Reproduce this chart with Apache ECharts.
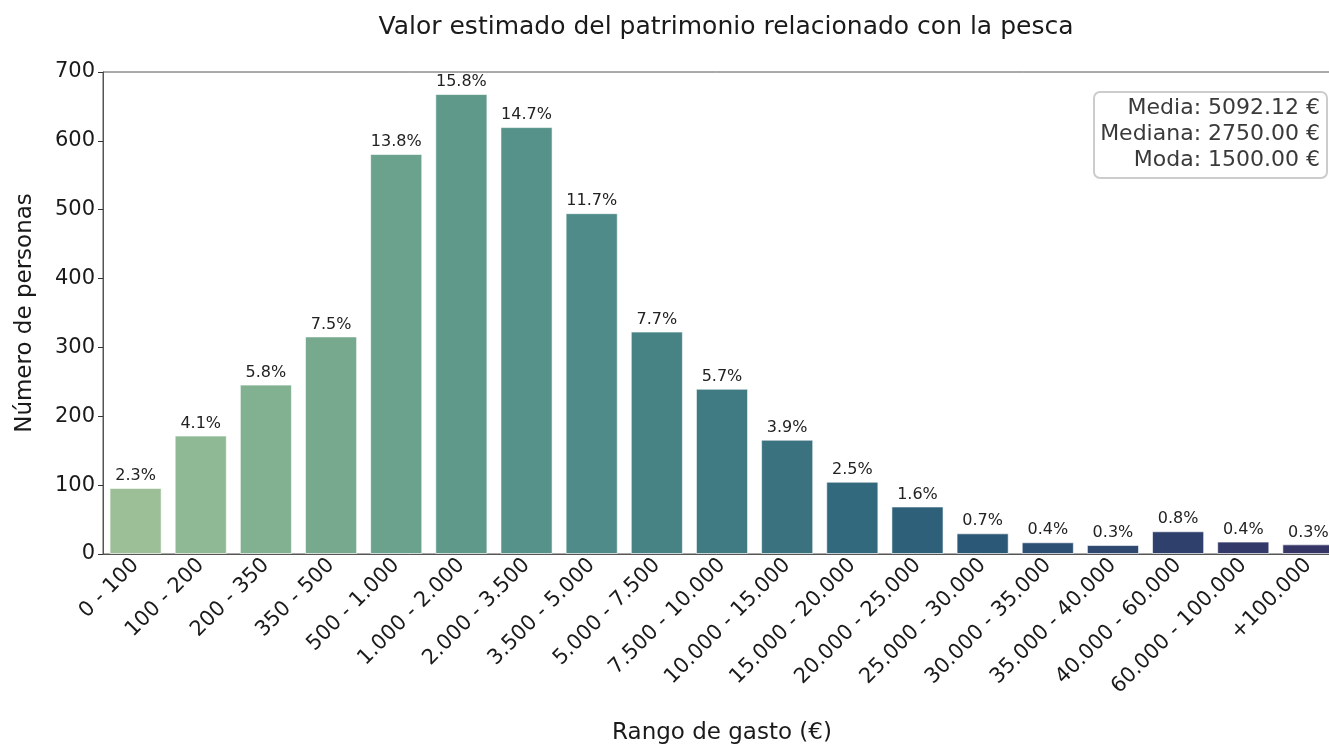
<!DOCTYPE html>
<html>
<head>
<meta charset="utf-8">
<script src="https://cdn.jsdelivr.net/npm/echarts@6/dist/echarts.min.js"></script>
<style>
html,body{margin:0;padding:0;background:#fff;}
#chart{width:1329px;height:746px;}
</style>
</head>
<body>
<div id="chart"></div>
<script>
const categories = ["0 - 100","100 - 200","200 - 350","350 - 500","500 - 1.000","1.000 - 2.000","2.000 - 3.500","3.500 - 5.000","5.000 - 7.500","7.500 - 10.000","10.000 - 15.000","15.000 - 20.000","20.000 - 25.000","25.000 - 30.000","30.000 - 35.000","35.000 - 40.000","40.000 - 60.000","60.000 - 100.000","+100.000"];
const counts = [96, 172, 246, 316, 581, 668, 620, 495, 323, 240, 166, 105, 69, 30, 17, 13, 33, 18, 14];
const percentLabels = ["2.3%","4.1%","5.8%","7.5%","13.8%","15.8%","14.7%","11.7%","7.7%","5.7%","3.9%","2.5%","1.6%","0.7%","0.4%","0.3%","0.8%","0.4%","0.3%"];
const yTicks = [0,100,200,300,400,500,600,700];
const statsLines = ["Media: 5092.12 €","Mediana: 2750.00 €","Moda: 1500.00 €"];
const palette = ["#9dbf98","#8fb994","#82b191","#76a98e","#6aa28d","#5f998a","#569289","#4f8b88","#478385","#407a82","#3a727f","#33697c","#2e607a","#2b5877","#2c5073","#2e486f","#30406c","#333a69","#353566"];

const FONT = "DejaVu Sans";
const chart = echarts.init(document.getElementById('chart'));
chart.setOption({
  animation: false,
  backgroundColor: '#fff',
  textStyle: {fontFamily: FONT},
  title: {
    text: 'Valor estimado del patrimonio relacionado con la pesca',
    left: 721, top: 10, textAlign: 'center',
    textStyle: {fontFamily: FONT, fontSize: 25, fontWeight: 'normal', color: '#1a1a1a'}
  },
  grid: {left: 103, top: 72, width: 1238, height: 482, containLabel: false, outerBoundsMode: 'none', show: true, borderColor: '#555', borderWidth: 1},
  xAxis: {
    type: 'category',
    data: categories,
    name: 'Rango de gasto (€)',
    nameLocation: 'middle',
    nameGap: 168,
    nameTextStyle: {fontFamily: FONT, fontSize: 23, color: '#1a1a1a'},
    axisLine: {lineStyle: {color: '#555', width: 1}},
    axisTick: {alignWithLabel: true, length: 5, lineStyle: {color: '#333'}},
    axisLabel: {rotate: 45, fontFamily: FONT, fontSize: 21, color: '#1a1a1a', margin: 8, interval: 0}
  },
  yAxis: {
    type: 'value',
    min: 0, max: 700, interval: 100,
    name: 'Número de personas',
    nameLocation: 'middle',
    nameGap: 66,
    nameTextStyle: {fontFamily: FONT, fontSize: 23, color: '#1a1a1a'},
    splitLine: {show: false},
    axisLine: {show: true, lineStyle: {color: '#555', width: 1}},
    axisTick: {show: true, length: 5, lineStyle: {color: '#333'}},
    axisLabel: {fontFamily: FONT, fontSize: 21, color: '#1a1a1a', margin: 8,
      formatter: v => yTicks.includes(v) ? String(v) : ''}
  },
  series: [{
    type: 'bar',
    data: counts.map((v, i) => ({value: v, itemStyle: {color: palette[i]}})),
    barCategoryGap: '20%',
    itemStyle: {borderColor: 'rgba(255,255,255,0.6)', borderWidth: 1},
    label: {
      show: true, position: 'top', distance: 4,
      fontFamily: FONT, fontSize: 16, color: '#222',
      formatter: p => percentLabels[p.dataIndex]
    }
  }],
  graphic: [{
    type: 'group',
    left: 1093, top: 91,
    children: [{
      type: 'rect',
      shape: {x: 0, y: 0, width: 233, height: 86, r: 6},
      style: {fill: '#fff', stroke: '#cccccc', lineWidth: 2}
    }, {
      type: 'text',
      style: {
        x: 226, y: 3,
        text: statsLines.join('\n'),
        align: 'right', verticalAlign: 'top',
        font: '22px "DejaVu Sans"', lineHeight: 26,
        fill: '#3a3a3a'
      }
    }]
  }]
});
</script>
</body>
</html>
